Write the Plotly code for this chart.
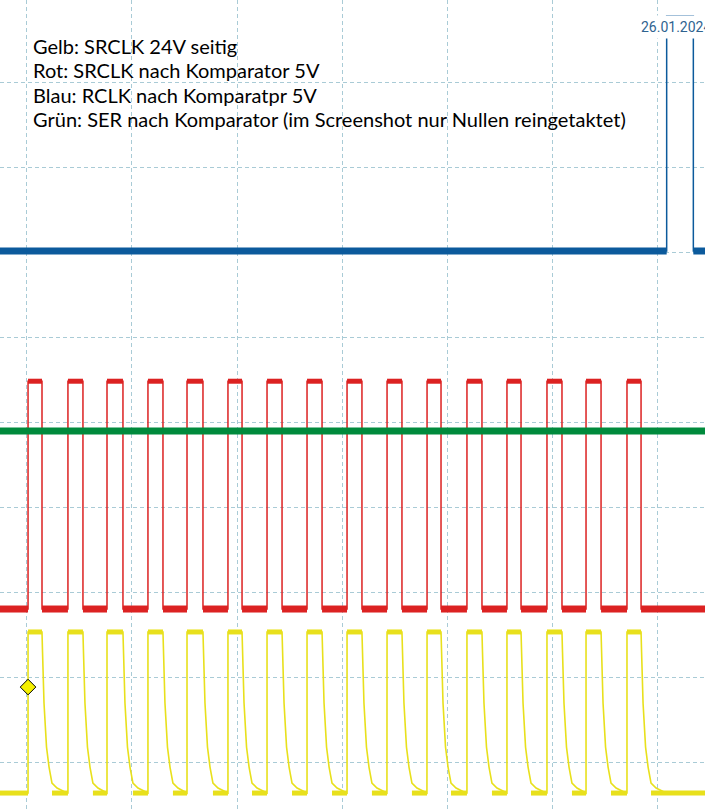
import plotly.graph_objects as go

# scope screen in divisions: x = time (div), y = level (div)
t_start = -0.257
t_end = 6.457
y_bottom = -0.588
y_top = 8.965

# clock edges (div)
clk_rise = [0.010, 0.390, 0.762, 1.152, 1.524, 1.914, 2.286, 2.667,
            3.048, 3.429, 3.810, 4.190, 4.571, 4.952, 5.324, 5.714]
clk_fall = [0.143, 0.533, 0.914, 1.295, 1.676, 2.048, 2.429, 2.810,
            3.190, 3.571, 3.943, 4.333, 4.705, 5.095, 5.467, 5.848]

# levels (div)
red_high = 4.48
red_low = 1.80
yel_high = 1.53
yel_low = -0.365
green_level = 3.894
blue_low = 6.012
blue_high = 8.776
blue_pulse = [6.092, 6.346]

# falling slope of the 24V side (time after edge, level)
decay_dt = [0.0, 0.005, 0.019, 0.043, 0.067, 0.095, 0.143, 0.238]
decay_y = [1.529, 1.294, 0.694, 0.176, -0.059, -0.247, -0.306, -0.365]

trigger_t = 0.010
trigger_y = 0.882

legend_lines = [
    "Gelb: SRCLK 24V seitig",
    "Rot: SRCLK nach Komparator 5V",
    "Blau: RCLK nach Komparatpr 5V",
    "Grün: SER nach Komparator (im Screenshot nur Nullen reingetaktet)",
]
date_text = "26.01.2024"

YELLOW = "#e8e01c"
RED = "#dc2222"
GREEN = "#008a3c"
BLUE = "#0c5a9c"

# red square wave
rx, ry = [t_start], [red_low]
for r, f in zip(clk_rise, clk_fall):
    rx += [r, r, f, f]
    ry += [red_low, red_high, red_high, red_low]
rx.append(t_end)
ry.append(red_low)

# noisy flat parts drawn thicker
low_starts = [t_start] + clk_fall
low_ends = clk_rise + [t_end]
rhx, rhy, rlx, rly = [], [], [], []
for r, f in zip(clk_rise, clk_fall):
    rhx += [r, f, None]
    rhy += [red_high, red_high, None]
for a, b in zip(low_starts, low_ends):
    rlx += [a, b, None]
    rly += [red_low, red_low, None]

# yellow with RC tail
yx, yy = [t_start], [yel_low]
for i, (r, f) in enumerate(zip(clk_rise, clk_fall)):
    nxt = clk_rise[i + 1] if i + 1 < len(clk_rise) else t_end
    yx += [r, r]
    yy += [yel_low, yel_high]
    for dt, v in zip(decay_dt, decay_y):
        if f + dt < nxt:
            yx.append(f + dt)
            yy.append(v)
    yx.append(nxt)
    yy.append(yel_low)

yhx, yhy, ylx, yly = [], [], [], []
for r, f in zip(clk_rise, clk_fall):
    yhx += [r, f, None]
    yhy += [yel_high, yel_high, None]
ylx += [t_start, clk_rise[0], None]
yly += [yel_low, yel_low, None]
for i, f in enumerate(clk_fall):
    nxt = clk_rise[i + 1] if i + 1 < len(clk_rise) else t_end
    ylx += [f + decay_dt[5], nxt, None]
    yly += [yel_low, yel_low, None]

# blue with the RCLK pulse at the end
bx = [t_start, blue_pulse[0], blue_pulse[0], blue_pulse[1], blue_pulse[1], t_end]
by = [blue_low, blue_low, blue_high, blue_high, blue_low, blue_low]
bbx = [t_start, blue_pulse[0], None, blue_pulse[1], t_end]
bby = [blue_low, blue_low, None, blue_low, blue_low]

fig = go.Figure()
fig.add_trace(go.Scatter(x=yx, y=yy, mode="lines", line=dict(color=YELLOW, width=1.6)))
fig.add_trace(go.Scatter(x=yhx, y=yhy, mode="lines", line=dict(color=YELLOW, width=5)))
fig.add_trace(go.Scatter(x=ylx, y=yly, mode="lines", line=dict(color=YELLOW, width=5)))
fig.add_trace(go.Scatter(x=rx, y=ry, mode="lines", line=dict(color=RED, width=1.5)))
fig.add_trace(go.Scatter(x=rhx, y=rhy, mode="lines", line=dict(color=RED, width=5)))
fig.add_trace(go.Scatter(x=rlx, y=rly, mode="lines", line=dict(color=RED, width=7)))
fig.add_trace(go.Scatter(x=[t_start, t_end], y=[green_level, green_level], mode="lines",
                         line=dict(color=GREEN, width=7)))
fig.add_trace(go.Scatter(x=bx, y=by, mode="lines", line=dict(color=BLUE, width=1.5)))
fig.add_trace(go.Scatter(x=bbx, y=bby, mode="lines", line=dict(color=BLUE, width=7)))
fig.add_trace(go.Scatter(x=[trigger_t], y=[trigger_y], mode="markers",
                         marker=dict(symbol="diamond", size=12, color="#f5f000",
                                     line=dict(color="black", width=1))))

for i, txt in enumerate(legend_lines):
    fig.add_annotation(text=txt, xref="paper", yref="paper", x=31 / 705, y=1 - (46 + 24.4 * i) / 812,
                       xanchor="left", yanchor="middle", showarrow=False,
                       font=dict(family="Lato", size=20, color="black"))

fig.add_annotation(text=date_text, xref="paper", yref="paper", x=637 / 705, y=1 - 27 / 812,
                   xanchor="left", yanchor="middle", showarrow=False, bgcolor="white",
                   borderpad=3, font=dict(family="Roboto", size=14, color="#2f6390"))

grid = dict(showgrid=True, gridcolor="#a9cbd6", gridwidth=1, griddash="4px,3px",
            zeroline=False, showticklabels=False, ticks="", showline=False, dtick=1, tick0=0)
fig.update_xaxes(range=[t_start, t_end], **grid)
fig.update_yaxes(range=[y_bottom, y_top], **grid)
fig.update_layout(width=705, height=812, margin=dict(l=0, r=0, t=0, b=0),
                  plot_bgcolor="white", paper_bgcolor="white", showlegend=False)

fig.write_html("out.html", config={"displayModeBar": False},
               post_script="document.body.style.margin='0';document.body.style.overflow='hidden';")
